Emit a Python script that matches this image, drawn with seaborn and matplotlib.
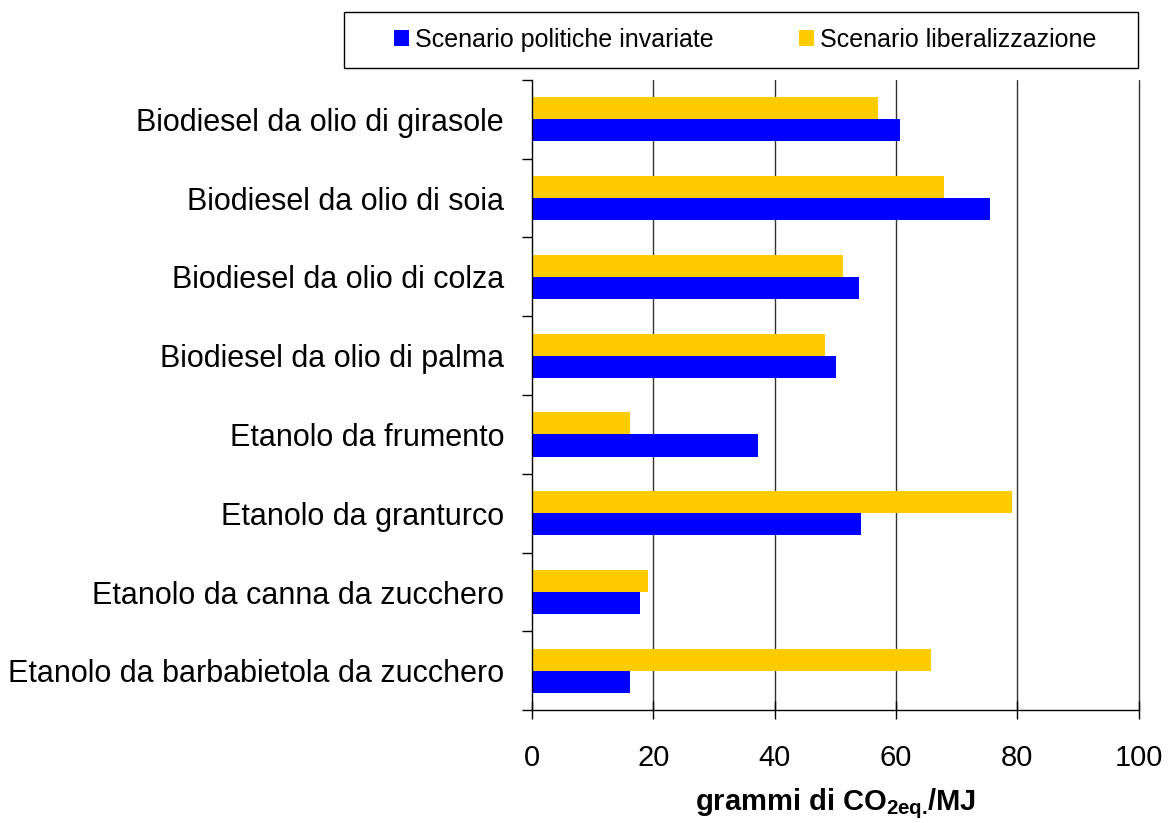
import numpy as np
import pandas as pd
import matplotlib
matplotlib.use("Agg")
import matplotlib.pyplot as plt
from matplotlib.patches import Patch, Rectangle
import seaborn as sns

categories = [
    "Biodiesel da olio di girasole",
    "Biodiesel da olio di soia",
    "Biodiesel da olio di colza",
    "Biodiesel da olio di palma",
    "Etanolo da frumento",
    "Etanolo da granturco",
    "Etanolo da canna da zucchero",
    "Etanolo da barbabietola da zucchero",
]
politiche_invariate = [60.7, 75.5, 53.9, 50.2, 37.3, 54.2, 17.8, 16.1]
liberalizzazione = [57.0, 68.0, 51.2, 48.3, 16.1, 79.2, 19.1, 65.7]
series_names = ["Scenario politiche invariate", "Scenario liberalizzazione"]
series_colors = ["#0000FF", "#FFCC00"]
xticks = [0, 20, 40, 60, 80, 100]

df = pd.DataFrame({
    "cat": categories * 2,
    "val": politiche_invariate + liberalizzazione,
    "serie": [series_names[0]] * len(categories) + [series_names[1]] * len(categories),
})

sns.set_theme(style="white")
plt.rcParams["font.family"] = ["Liberation Sans", "DejaVu Sans"]
plt.rcParams["mathtext.fontset"] = "custom"
plt.rcParams["mathtext.rm"] = "Liberation Sans"
plt.rcParams["mathtext.bf"] = "Liberation Sans:bold"
plt.rcParams["mathtext.default"] = "bf"
for k in ["text.color", "axes.labelcolor", "xtick.color", "ytick.color"]:
    plt.rcParams[k] = "black"

fig = plt.figure(figsize=(11.69, 8.23), dpi=100)
ax = fig.add_axes([0.455, 0.137, 0.519, 0.766])

hue_order = [series_names[1], series_names[0]]
palette = {series_names[0]: series_colors[0], series_names[1]: series_colors[1]}
sns.barplot(data=df, y="cat", x="val", hue="serie", hue_order=hue_order,
            order=categories, palette=palette, orient="h", width=0.56,
            gap=0, saturation=1, linewidth=0, legend=False, ax=ax)

ax.set_xlim(0, 100)
ax.set_ylim(len(categories) - 0.5, -0.5)
ax.set_xticks(xticks)
ax.set_xticklabels([str(v) for v in xticks], fontsize=21)
ax.tick_params(axis="x", direction="inout", length=13, width=1, color="black", pad=18, bottom=True)

ax.set_yticks(np.arange(-0.5, len(categories), 1))
ax.set_yticklabels([])
ax.set_yticks(range(len(categories)), minor=True)
ax.set_yticklabels(categories, minor=True, fontsize=22)
ax.tick_params(axis="y", which="major", direction="out", length=7, width=1, color="black", left=True)
ax.tick_params(axis="y", which="minor", length=0, pad=20)

ax.set_ylabel("")
ax.set_xlabel(r"grammi di CO$_{2eq.}\!/MJ$", fontsize=21, fontweight="bold", labelpad=10)

for v in xticks[1:]:
    ax.axvline(v, color="#333333", lw=1, zorder=0.5, clip_on=False)

for s in ["top", "right"]:
    ax.spines[s].set_visible(False)
for s in ["left", "bottom"]:
    ax.spines[s].set_color("black")
    ax.spines[s].set_linewidth(1)
ax.grid(False)

# legend frame
fig.add_artist(Rectangle((344 / 1169, 1 - 68 / 823), 794 / 1169, 56 / 823,
                         transform=fig.transFigure, facecolor="white",
                         edgecolor="black", lw=1, zorder=1))
handles = [Patch(facecolor=series_colors[0], edgecolor="none", label=series_names[0]),
           Patch(facecolor=series_colors[1], edgecolor="none", label=series_names[1])]
leg = fig.legend(handles=handles, loc="center", ncol=2,
                 bbox_to_anchor=(745 / 1169, 1 - 40 / 823), frameon=False,
                 fontsize=18, handlelength=0.6, handleheight=0.6,
                 handletextpad=0.25, columnspacing=3.4, borderaxespad=0)
leg.set_zorder(2)

fig.savefig("out.png", dpi=100)
